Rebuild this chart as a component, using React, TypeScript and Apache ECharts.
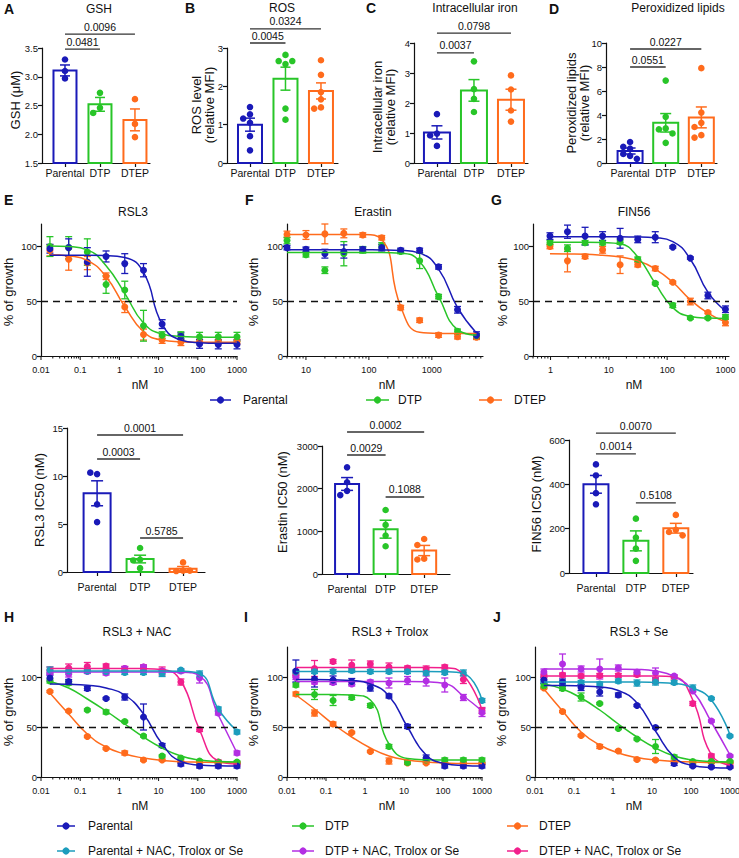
import React, { useEffect, useRef } from "react";
import * as echarts from "echarts";

const FONT = "'Liberation Sans', Arial, Helvetica, sans-serif";
const INK = "#111111";

const COL_PAR = "#1a1ab8";
const COL_DTP = "#28c528";
const COL_DTEP = "#ff6b1c";
const COL_PAR_T = "#1c9dbd";
const COL_DTP_T = "#b32ee3";
const COL_DTEP_T = "#f21f8c";
const GROUP_COLORS = [COL_PAR, COL_DTP, COL_DTEP];

const groupNames = ["Parental", "DTP", "DTEP"];
const treatedNames = ["Parental + NAC, Trolox or Se", "DTP + NAC, Trolox or Se", "DTEP + NAC, Trolox or Se"];

// ---------- A–D : bar panels (points per group, mean, SEM) ----------
const gshPoints = [[3.3, 3.1, 2.97], [2.72, 2.46, 2.37], [2.61, 2.18, 1.95]];
const gshMean = [3.11, 2.52, 2.25];
const gshSem = [0.095, 0.12, 0.19];
const gshP = ["0.0481", "0.0096"];

const rosPoints = [[1.46, 1.27, 1.16, 1.05, 0.7, 0.33], [2.82, 2.66, 2.66, 2.58, 1.42, 1.13], [2.68, 2.3, 1.85, 1.66, 1.45, 1.42]];
const rosMean = [1.0, 2.2, 1.88];
const rosSem = [0.17, 0.3, 0.21];
const rosP = ["0.0045", "0.0324"];

const ironPoints = [[1.63, 0.98, 0.92, 0.57], [3.39, 2.46, 2.14, 1.7], [2.92, 2.45, 1.75, 1.38]];
const ironMean = [1.02, 2.42, 2.11];
const ironSem = [0.22, 0.36, 0.35];
const ironP = ["0.0037", "0.0798"];

const lipidPoints = [[1.75, 1.35, 1.2, 0.75, 0.6, 0.35], [6.87, 3.85, 2.88, 2.8, 2.46, 1.68], [7.9, 4.2, 3.35, 3.0, 2.32, 2.12]];
const lipidMean = [1.0, 3.35, 3.8];
const lipidSem = [0.25, 0.77, 0.87];
const lipidP = ["0.0551", "0.0227"];

// ---------- IC50 bar panels ----------
const rsl3Ic50Points = [[10.2, 10.35, 7.05, 5.2], [2.5, 1.3, 1.2, 0.4], [1.0, 0.15, 0.1, 0.15]];
const rsl3Ic50Mean = [8.2, 1.35, 0.35];
const rsl3Ic50Sem = [1.3, 0.4, 0.22];
const rsl3Ic50P = ["0.0001", "0.0003", "0.5785"];

const eraIc50Points = [[2500, 2150, 1950, 1850], [1500, 1150, 900, 650], [820, 680, 360, 340]];
const eraIc50Mean = [2110, 1050, 550];
const eraIc50Sem = [150, 210, 120];
const eraIc50P = ["0.0002", "0.0029", "0.1088"];

const finIc50Points = [[490, 440, 360, 310], [245, 160, 110, 55], [262, 195, 185, 170]];
const finIc50Mean = [400, 145, 202];
const finIc50Sem = [40, 45, 22];
const finIc50P = ["0.0070", "0.0014", "0.5108"];

// ---------- Dose-response (nM) ----------
const dosesRSL3 = [0.0169, 0.0508, 0.152, 0.457, 1.37, 4.12, 12.3, 37.0, 111, 333, 1000];
const dosesErastin = [5, 10, 20, 40, 80, 160, 320, 640, 1280, 2560, 5120];
const dosesFIN56 = [0.977, 1.95, 3.91, 7.81, 15.6, 31.3, 62.5, 125, 250, 500, 1000];

// E: RSL3
const rsl3ParPts = [97.5, 98.5, 85.5, 90.5, 84, 78, 29, 18, 11, 10.5, 10.5];
const rsl3ParSem = [4, 8, 13, 5, 9, 6, 4, 3, 4, 4, 4];
const rsl3ParFit = [91.5, 91.5, 91.5, 91.3, 89.5, 76, 29, 14.5, 12, 11.5, 11.5];
const rsl3DtpPts = [99.5, 98.5, 94.5, 65, 60, 27.5, 19, 19, 17.5, 17.5, 17.5];
const rsl3DtpSem = [9, 10, 12, 8, 8, 14, 3, 3, 4, 4, 4];
const rsl3DtpFit = [100, 99.5, 96.5, 82, 57, 30, 20, 17.8, 17.2, 17, 17];
const rsl3DtepPts = [96, 88, 84.5, 72.5, 44.5, 19.5, 14.5, 12.5, 13, 13, 13];
const rsl3DtepSem = [5, 10, 6, 3, 5, 5, 3, 3, 2, 2, 2];
const rsl3DtepFit = [92, 91, 87, 72, 45, 22, 14.5, 13, 12.5, 12.5, 12.5];

// F: Erastin
const eraParPts = [98.5, 97, 93, 95, 97, 98.5, 96, 96, 81, 42, 19];
const eraParSem = [2, 2, 4, 6, 2, 3, 2, 2, 2, 3, 3];
const eraParFit = [96.5, 96.5, 96.5, 96.5, 96.5, 96.4, 96, 93.5, 79, 44, 21];
const eraDtpPts = [105, 92, 78, 93, 96.5, 100, 95, 86.5, 54, 22.5, 18.5];
const eraDtpSem = [3, 2, 3, 11, 3, 3, 2, 7, 2, 2, 2];
const eraDtpFit = [94, 94, 94, 94, 94, 94, 93.5, 86, 54, 24, 19];
const eraDtepPts = [110.5, 110, 111, 111.5, 110, 107.5, 44, 32.5, 19, 17.5, 17];
const eraDtepSem = [3, 4, 9, 4, 2, 2, 2, 2, 2, 2, 2];
const eraDtepFit = [110.5, 110.5, 110.5, 110.5, 110.4, 106, 45, 21.5, 20.5, 20.5, 20.5];

// G: FIN56
const finParPts = [109, 113, 109, 109, 107, 106, 108, 99, 89, 55, 42.5];
const finParSem = [3, 6, 8, 4, 9, 3, 5, 1, 1, 3, 3];
const finParFit = [108.3, 108.3, 108.3, 108.3, 108.3, 108.2, 107.5, 104, 88, 58, 41];
const finDtpPts = [103, 98, 103, 103, 103.5, 88, 66, 46, 34.5, 34.5, 35.5];
const finDtpSem = [2, 3, 2, 2, 2, 2, 1, 2, 1, 1, 2];
const finDtpFit = [103.5, 103.5, 103.5, 103.2, 102, 90, 66, 44, 36, 34.5, 34.2];
const finDtepPts = [99.5, 86.5, 90.5, 96.5, 83, 83, 79.5, 67, 49.5, 39.5, 30.5];
const finDtepSem = [2, 10, 2, 3, 8, 2, 2, 1, 3, 1, 3];
const finDtepFit = [93, 92.8, 92.5, 91.5, 90, 86.5, 79, 67, 51, 39, 31];

// H: RSL3 + NAC
const nacParPts = [99, 95.5, 88.5, 78.5, 80, 60, 31.5, 13, 11, 11, 11];
const nacParSem = [3, 2, 2, 1, 3, 13, 2, 2, 2, 2, 2];
const nacParFit = [93, 92.7, 91.7, 89, 82, 63, 33, 15.5, 12, 11.2, 11];
const nacDtpPts = [96, 94, 67, 65, 55.5, 41, 21, 19, 16, 15, 15];
const nacDtpSem = [2, 2, 1, 2, 1, 1, 1, 1, 1, 1, 1];
const nacDtpFit = [95.5, 89, 78, 66, 53, 40, 29, 21, 17, 15.5, 15];
const nacDtepPts = [85.5, 66, 40.5, 28.5, 24, 17, 17, 15, 14, 14, 14];
const nacDtepSem = [1, 1, 1, 1, 2, 1, 1, 1, 1, 1, 1];
const nacDtepFit = [84, 63, 43, 30, 23, 19, 16.5, 15.3, 14.8, 14.5, 14.5];
const nacParTPts = [107, 106, 106, 105.5, 104.5, 104.5, 103.5, 107, 103, 68, 45];
const nacParTSem = [3, 3, 2, 2, 2, 2, 3, 1, 3, 2, 2];
const nacParTFit = [106, 106, 106, 106, 106, 106, 106, 105.8, 103.5, 68, 46];
const nacDtpTPts = [104, 103, 105.5, 104, 108.5, 110, 106, 106, 99, 64, 24];
const nacDtpTSem = [2, 3, 2, 2, 2, 2, 2, 2, 5, 2, 2];
const nacDtpTFit = [105, 105, 105, 105, 105, 105, 105, 104.8, 101, 62, 24];
const nacDtepTPts = [107, 109, 110.5, 111, 108.5, 110, 106, 95, 47.5, 15, 13];
const nacDtepTSem = [3, 4, 4, 2, 2, 2, 4, 3, 2, 2, 2];
const nacDtepTFit = [108.5, 108.5, 108.5, 108.5, 108.5, 108.4, 107.5, 96, 47, 16, 13];

// I: RSL3 + Trolox
const trxParPts = [106, 98, 97, 95.5, 89, 81, 50.5, 19, 11, 11, 11];
const trxParSem = [11, 8, 4, 3, 3, 2, 2, 3, 2, 2, 2];
const trxParFit = [97.5, 97.5, 97.2, 96.5, 93, 81, 50, 22, 13.5, 11.5, 11];
const trxDtpPts = [92, 82.5, 76.5, 79.5, 71.5, 30.5, 14.5, 17, 17, 17, 17];
const trxDtpSem = [2, 5, 5, 2, 2, 2, 2, 2, 2, 2, 2];
const trxDtpFit = [82.5, 82.5, 82.5, 82, 77, 33, 18.5, 17.2, 17, 17, 17];
const trxDtepPts = [83, 64, 53, 44.5, 25.5, 16, 14, 14, 13.5, 13.5, 13.5];
const trxDtepSem = [2, 3, 2, 1, 1, 3, 1, 1, 1, 1, 1];
const trxDtepFit = [82, 68, 53, 40, 29, 21, 17, 15, 14, 13.5, 13.5];
const trxParTPts = [105, 105.5, 105.5, 106.5, 105.5, 105.5, 105.5, 104, 104.5, 104, 76.5];
const trxParTSem = [2, 2, 2, 2, 2, 2, 2, 2, 2, 3, 2];
const trxParTFit = [105.5, 105.5, 105.5, 105.5, 105.5, 105.5, 105.5, 105.5, 105.3, 103.5, 77];
const trxDtpTPts = [99.5, 95, 94.5, 93, 95, 94, 96.5, 96, 92, 79.5, 64.5];
const trxDtpTSem = [2, 2, 2, 2, 2, 5, 4, 5, 7, 3, 4];
const trxDtpTFit = [95.5, 95.5, 95.5, 95.5, 95.5, 95.5, 95.5, 95.2, 93.5, 81, 66];
const trxDtepTPts = [102, 108.5, 115.5, 112, 113, 110, 109, 108, 110, 97.5, 66.5];
const trxDtepTSem = [2, 8, 2, 5, 3, 4, 2, 3, 2, 4, 3];
const trxDtepTFit = [109.5, 109.5, 109.5, 109.5, 109.5, 109.5, 109.5, 109.5, 109.3, 102, 67];

// J: RSL3 + Se
const seParPts = [97, 95, 89.5, 85, 82, 71.5, 49.5, 13.5, 11, 10, 10];
const seParSem = [3, 3, 3, 4, 2, 1, 1, 2, 1, 1, 1];
const seParFit = [91.5, 91.5, 91, 90, 86.5, 74, 46, 20, 11.5, 9.5, 9];
const seDtpPts = [91, 88.5, 80, 73.5, 48.5, 38, 30.5, 20, 15.5, 15.5, 15.5];
const seDtpSem = [2, 2, 4, 1, 1, 1, 7, 2, 1, 1, 1];
const seDtpFit = [93, 88, 79, 67, 53, 40, 29, 21, 17, 15.5, 15];
const seDtepPts = [89, 65.5, 41.5, 30.5, 26, 17.5, 17, 15, 14.5, 14.5, 14.5];
const seDtepSem = [1, 1, 1, 2, 1, 1, 1, 1, 1, 1, 1];
const seDtepFit = [88, 66, 45, 32, 24, 19.5, 17, 15.5, 15, 14.5, 14.5];
const seParTPts = [95.5, 94, 94.5, 93, 96, 94, 95, 94.5, 89, 78.5, 41];
const seParTSem = [2, 2, 2, 2, 2, 3, 3, 2, 3, 1, 1];
const seParTFit = [95, 95, 95, 95, 95, 95, 94.5, 93.5, 89, 77, 42];
const seDtpTPts = [105, 113, 108, 108, 109, 105, 104, 101, 86, 56, 21];
const seDtpTSem = [3, 10, 3, 10, 3, 2, 5, 1, 1, 1, 1];
const seDtpTFit = [108, 108, 108, 108, 107.8, 107.5, 106, 100.5, 86, 55, 22];
const seDtepTPts = [101, 102, 101, 101.5, 101.5, 102.5, 96.5, 100, 73.5, 21, 11];
const seDtepTSem = [2, 2, 2, 2, 2, 2, 3, 2, 2, 2, 2];
const seDtepTFit = [101, 101, 101, 101, 101, 101, 101, 100, 77, 22, 12];

// ---------- panel definitions ----------
const barPanels = [
  { points: gshPoints, mean: gshMean, sem: gshSem, yMin: 1.5, yMax: 3.5, yStep: 0.5, digits: 1,
    brackets: [{ from: 0, to: 1, level: 3.48, label: gshP[0] }, { from: 0, to: 2, level: 3.74, label: gshP[1] }] },
  { points: rosPoints, mean: rosMean, sem: rosSem, yMin: 0, yMax: 3, yStep: 1, digits: 0,
    brackets: [{ from: 0, to: 1, level: 3.13, label: rosP[0] }, { from: 0, to: 2, level: 3.5, label: rosP[1] }] },
  { points: ironPoints, mean: ironMean, sem: ironSem, yMin: 0, yMax: 4, yStep: 1, digits: 0,
    brackets: [{ from: 0, to: 1, level: 3.67, label: ironP[0] }, { from: 0, to: 2, level: 4.33, label: ironP[1] }] },
  { points: lipidPoints, mean: lipidMean, sem: lipidSem, yMin: 0, yMax: 10, yStep: 2, digits: 0,
    brackets: [{ from: 0, to: 1, level: 8.0, label: lipidP[0] }, { from: 0, to: 2, level: 9.5, label: lipidP[1] }] },
  { points: rsl3Ic50Points, mean: rsl3Ic50Mean, sem: rsl3Ic50Sem, yMin: 0, yMax: 15, yStep: 5, digits: 0,
    brackets: [{ from: 0, to: 2, level: 14.27, label: rsl3Ic50P[0] }, { from: 0, to: 1, level: 11.77, label: rsl3Ic50P[1] }, { from: 1, to: 2, level: 3.54, label: rsl3Ic50P[2] }] },
  { points: eraIc50Points, mean: eraIc50Mean, sem: eraIc50Sem, yMin: 0, yMax: 3000, yStep: 1000, digits: 0,
    brackets: [{ from: 0, to: 2, level: 3328, label: eraIc50P[0] }, { from: 0, to: 1, level: 2789, label: eraIc50P[1] }, { from: 1, to: 2, level: 1805, label: eraIc50P[2] }] },
  { points: finIc50Points, mean: finIc50Mean, sem: finIc50Sem, yMin: 0, yMax: 600, yStep: 200, digits: 0,
    brackets: [{ from: 0, to: 2, level: 631, label: finIc50P[0] }, { from: 0, to: 1, level: 537, label: finIc50P[1] }, { from: 1, to: 2, level: 316, label: finIc50P[2] }] },
];

const barLayouts = [
  { left: 42, top: 48, width: 108, height: 115, xMin: -0.657, xMax: 2.43, barW: 23, capW: 10, labelMargin: 4 },
  { left: 227, top: 48, width: 111, height: 115, xMin: -0.648, xMax: 2.48, barW: 24, capW: 10, labelMargin: 4 },
  { left: 414, top: 43, width: 114, height: 120, xMin: -0.62, xMax: 2.46, barW: 26, capW: 11, labelMargin: 4 },
  { left: 606, top: 43, width: 111, height: 120, xMin: -0.676, xMax: 2.44, barW: 25, capW: 11, labelMargin: 4 },
  { left: 67, top: 428, width: 138, height: 144, xMin: -0.7, xMax: 2.51, barW: 27, capW: 12, labelMargin: 9 },
  { left: 322, top: 446, width: 128, height: 128, xMin: -0.65, xMax: 2.67, barW: 24, capW: 12, labelMargin: 9 },
  { left: 569, top: 440, width: 124, height: 133, xMin: -0.675, xMax: 2.43, barW: 25, capW: 12, labelMargin: 9 },
];

const dosePanels = [
  { doses: dosesRSL3, sets: [
    { color: COL_PAR, pts: rsl3ParPts, sem: rsl3ParSem, fit: rsl3ParFit },
    { color: COL_DTP, pts: rsl3DtpPts, sem: rsl3DtpSem, fit: rsl3DtpFit },
    { color: COL_DTEP, pts: rsl3DtepPts, sem: rsl3DtepSem, fit: rsl3DtepFit } ] },
  { doses: dosesErastin, sets: [
    { color: COL_PAR, pts: eraParPts, sem: eraParSem, fit: eraParFit },
    { color: COL_DTP, pts: eraDtpPts, sem: eraDtpSem, fit: eraDtpFit },
    { color: COL_DTEP, pts: eraDtepPts, sem: eraDtepSem, fit: eraDtepFit } ] },
  { doses: dosesFIN56, sets: [
    { color: COL_PAR, pts: finParPts, sem: finParSem, fit: finParFit },
    { color: COL_DTP, pts: finDtpPts, sem: finDtpSem, fit: finDtpFit },
    { color: COL_DTEP, pts: finDtepPts, sem: finDtepSem, fit: finDtepFit } ] },
  { doses: dosesRSL3, sets: [
    { color: COL_PAR, pts: nacParPts, sem: nacParSem, fit: nacParFit },
    { color: COL_DTP, pts: nacDtpPts, sem: nacDtpSem, fit: nacDtpFit },
    { color: COL_DTEP, pts: nacDtepPts, sem: nacDtepSem, fit: nacDtepFit },
    { color: COL_PAR_T, pts: nacParTPts, sem: nacParTSem, fit: nacParTFit },
    { color: COL_DTP_T, pts: nacDtpTPts, sem: nacDtpTSem, fit: nacDtpTFit },
    { color: COL_DTEP_T, pts: nacDtepTPts, sem: nacDtepTSem, fit: nacDtepTFit } ] },
  { doses: dosesRSL3, sets: [
    { color: COL_PAR, pts: trxParPts, sem: trxParSem, fit: trxParFit },
    { color: COL_DTP, pts: trxDtpPts, sem: trxDtpSem, fit: trxDtpFit },
    { color: COL_DTEP, pts: trxDtepPts, sem: trxDtepSem, fit: trxDtepFit },
    { color: COL_PAR_T, pts: trxParTPts, sem: trxParTSem, fit: trxParTFit },
    { color: COL_DTP_T, pts: trxDtpTPts, sem: trxDtpTSem, fit: trxDtpTFit },
    { color: COL_DTEP_T, pts: trxDtepTPts, sem: trxDtepTSem, fit: trxDtepTFit } ] },
  { doses: dosesRSL3, sets: [
    { color: COL_PAR, pts: seParPts, sem: seParSem, fit: seParFit },
    { color: COL_DTP, pts: seDtpPts, sem: seDtpSem, fit: seDtpFit },
    { color: COL_DTEP, pts: seDtepPts, sem: seDtepSem, fit: seDtepFit },
    { color: COL_PAR_T, pts: seParTPts, sem: seParTSem, fit: seParTFit },
    { color: COL_DTP_T, pts: seDtpTPts, sem: seDtpTSem, fit: seDtpTFit },
    { color: COL_DTEP_T, pts: seDtepTPts, sem: seDtepTSem, fit: seDtepTFit } ] },
];

const doseLayouts = [
  { left: 41, top: 224, width: 196, height: 132, xMin: 0.01, xMax: 1000, yMax: 120 },
  { left: 287, top: 224, width: 196, height: 132, xMin: 5, xMax: 6500, yMax: 120 },
  { left: 533, top: 224, width: 196, height: 132, xMin: 0.5, xMax: 1150, yMax: 120 },
  { left: 41, top: 647, width: 196, height: 130, xMin: 0.01, xMax: 1000, yMax: 130 },
  { left: 287, top: 647, width: 195, height: 130, xMin: 0.01, xMax: 1000, yMax: 130 },
  { left: 535, top: 647, width: 195, height: 130, xMin: 0.01, xMax: 1000, yMax: 130 },
];

// ---------- text layout ----------
const letters = [
  ["A", 4, 9], ["B", 185, 8], ["C", 366, 8], ["D", 549, 9],
  ["E", 4, 200], ["F", 245, 200], ["G", 491, 200],
  ["H", 4, 617], ["I", 244, 617], ["J", 493, 617],
];
const titles = [
  ["GSH", 99, 9], ["ROS", 282, 8], ["Intracellular iron", 475, 8], ["Peroxidized lipids", 678, 8],
  ["RSL3", 133, 212], ["Erastin", 373, 212], ["FIN56", 634, 212],
  ["RSL3 + NAC", 137, 632], ["RSL3 + Trolox", 390, 632], ["RSL3 + Se", 639, 632],
];
const yNames = [
  ["GSH (μM)", 15, 100], ["ROS level\n(relative MFI)", 203, 105], ["Intracellular iron\n(relative MFI)", 384, 107],
  ["Peroxidized lipids\n(relative MFI)", 578, 103],
  ["RSL3 IC50 (nM)", 39, 500], ["Erastin IC50 (nM)", 282, 502], ["FIN56 IC50 (nM)", 536, 504],
  ["% of growth", 8, 292], ["% of growth", 253, 292], ["% of growth", 502, 292],
  ["% of growth", 8, 712], ["% of growth", 253, 712], ["% of growth", 501, 712],
];
const xNames = [["nM", 140, 385], ["nM", 387, 385], ["nM", 634, 385], ["nM", 140, 806], ["nM", 387, 806], ["nM", 634, 806]];

const legendRows = [
  { y: 400, items: [
    { label: groupNames[0], color: COL_PAR, x1: 210, x2: 231, tx: 243 },
    { label: groupNames[1], color: COL_DTP, x1: 366, x2: 389, tx: 398 },
    { label: groupNames[2], color: COL_DTEP, x1: 479, x2: 502, tx: 514 } ] },
  { y: 826, items: [
    { label: groupNames[0], color: COL_PAR, x1: 57, x2: 75, tx: 88 },
    { label: groupNames[1], color: COL_DTP, x1: 292, x2: 314, tx: 325 },
    { label: groupNames[2], color: COL_DTEP, x1: 507, x2: 528, tx: 539 } ] },
  { y: 851, items: [
    { label: treatedNames[0], color: COL_PAR_T, x1: 57, x2: 75, tx: 88 },
    { label: treatedNames[1], color: COL_DTP_T, x1: 292, x2: 314, tx: 325 },
    { label: treatedNames[2], color: COL_DTEP_T, x1: 507, x2: 528, tx: 539 } ] },
];

function swarmOffsets(ys: number[], d: number): number[] {
  const placed: { x: number; y: number }[] = [];
  return ys.map((y) => {
    const steps = [0, -1, 1, -2, 2, -3, 3];
    let x = 0;
    for (const s of steps) {
      const cx = s * d;
      if (placed.every((p) => Math.hypot(p.x - cx, p.y - y) >= d * 0.92)) { x = cx; break; }
    }
    placed.push({ x, y });
    return x;
  });
}

const axisLineStyle = { color: INK, width: 1.2 };

function buildOption() {
  const grid: any[] = [];
  const xAxis: any[] = [];
  const yAxis: any[] = [];
  const series: any[] = [];

  barPanels.forEach((p, i) => {
    const L = barLayouts[i];
    grid.push({ left: L.left, top: L.top, width: L.width, height: L.height, containLabel: false, outerBoundsMode: "none" });
    xAxis.push({
      gridIndex: i, type: "value", min: L.xMin, max: L.xMax,
      axisLine: { show: true, onZero: false, lineStyle: axisLineStyle },
      axisTick: { show: true, length: 4, customValues: [0, 1, 2], lineStyle: axisLineStyle },
      axisLabel: { customValues: [0, 1, 2], fontSize: 10.5, fontFamily: FONT, color: INK, margin: L.labelMargin,
        formatter: (v: number) => (Number.isInteger(v) && v >= 0 && v <= 2 ? groupNames[v] : "") },
      splitLine: { show: false },
    });
    yAxis.push({
      gridIndex: i, type: "value", min: p.yMin, max: p.yMax, interval: p.yStep,
      axisLine: { show: true, onZero: false, lineStyle: axisLineStyle },
      axisTick: { show: true, length: 4, lineStyle: axisLineStyle },
      axisLabel: { fontSize: 9.5, fontFamily: FONT, color: INK, margin: 4, formatter: (v: number) => v.toFixed(p.digits) },
      splitLine: { show: false },
    });
    // bars
    series.push({
      type: "custom", xAxisIndex: i, yAxisIndex: i, clip: false, silent: true, z: 2,
      data: p.mean.map((m, k) => [k, m]),
      renderItem: (params: any, api: any) => {
        const k = api.value(0);
        const top = api.coord([k, api.value(1)]);
        const base = api.coord([k, p.yMin]);
        return {
          type: "rect",
          shape: { x: top[0] - L.barW / 2, y: top[1], width: L.barW, height: base[1] - top[1] },
          style: { fill: "#ffffff", stroke: GROUP_COLORS[k], lineWidth: 2 },
        };
      },
    });
    // dots
    series.push({
      type: "custom", xAxisIndex: i, yAxisIndex: i, clip: false, silent: true, z: 3,
      data: p.points.flatMap((arr, k) => arr.map((v, j) => [k, v, j])),
      renderItem: (params: any, api: any) => {
        const k = api.value(0);
        const j = api.value(2);
        const vals = p.points[k];
        const ys = vals.map((v) => api.coord([k, v])[1]);
        const offs = swarmOffsets(ys, 6.8);
        const c = api.coord([k, vals[j]]);
        return { type: "circle", shape: { cx: c[0] + offs[j], cy: c[1], r: 3.3 }, style: { fill: GROUP_COLORS[k] } };
      },
    });
    // error bars
    series.push({
      type: "custom", xAxisIndex: i, yAxisIndex: i, clip: false, silent: true, z: 4,
      data: p.mean.map((m, k) => [k, m, p.sem[k]]),
      renderItem: (params: any, api: any) => {
        const k = api.value(0), m = api.value(1), s = api.value(2);
        const hi = api.coord([k, m + s]);
        const lo = api.coord([k, m - s]);
        const hw = L.capW / 2;
        const st = { stroke: GROUP_COLORS[k], lineWidth: 1.5 };
        return {
          type: "group",
          children: [
            { type: "line", shape: { x1: hi[0], y1: hi[1], x2: lo[0], y2: lo[1] }, style: st },
            { type: "line", shape: { x1: hi[0] - hw, y1: hi[1], x2: hi[0] + hw, y2: hi[1] }, style: st },
            { type: "line", shape: { x1: lo[0] - hw, y1: lo[1], x2: lo[0] + hw, y2: lo[1] }, style: st },
          ],
        };
      },
    });
  });

  dosePanels.forEach((p, j) => {
    const gi = barPanels.length + j;
    const L = doseLayouts[j];
    grid.push({ left: L.left, top: L.top, width: L.width, height: L.height, containLabel: false, outerBoundsMode: "none" });
    const hideEnds = !(Math.abs(Math.log10(L.xMin) - Math.round(Math.log10(L.xMin))) < 1e-6);
    xAxis.push({
      gridIndex: gi, type: "log", logBase: 10, min: L.xMin, max: L.xMax,
      axisLine: { show: true, onZero: false, lineStyle: axisLineStyle },
      axisTick: { show: false },
      axisLabel: { fontSize: 9, fontFamily: FONT, color: INK, margin: 9, showMinLabel: !hideEnds, showMaxLabel: !hideEnds,
        formatter: (v: number) => String(+Number(v).toPrecision(6)) },
      splitLine: { show: false }, minorTick: { show: false },
    });
    yAxis.push({
      gridIndex: gi, type: "value", min: 0, max: L.yMax, interval: 50,
      axisLine: { show: true, onZero: false, lineStyle: axisLineStyle },
      axisTick: { show: true, length: 4, customValues: [0, 50, 100], lineStyle: axisLineStyle },
      axisLabel: { customValues: [0, 50, 100], fontSize: 9.5, fontFamily: FONT, color: INK, margin: 4,
        formatter: (v: number) => (v <= 100 ? String(v) : "") },
      splitLine: { show: false },
    });
    const order = [...p.sets].reverse();
    order.forEach((s, idx) => {
      series.push({
        type: "line", xAxisIndex: gi, yAxisIndex: gi, clip: false, silent: true,
        data: p.doses.map((d, k) => [d, s.fit[k]]),
        smooth: 0.5, showSymbol: false, symbol: "none",
        lineStyle: { color: s.color, width: 1.5 },
        markLine: idx === 0 ? {
          silent: true, symbol: ["none", "none"], label: { show: false },
          lineStyle: { type: [7, 5], color: "#111", width: 1.3 },
          data: [{ yAxis: 50 }],
        } : undefined,
      });
      series.push({
        type: "custom", xAxisIndex: gi, yAxisIndex: gi, clip: false, silent: true,
        data: p.doses.map((d, k) => [d, s.pts[k], s.sem[k]]),
        renderItem: (params: any, api: any) => {
          const x = api.value(0), m = api.value(1), e = api.value(2);
          const hi = api.coord([x, m + e]);
          const lo = api.coord([x, m - e]);
          const hw = 3.5;
          const st = { stroke: s.color, lineWidth: 1.3 };
          return {
            type: "group",
            children: [
              { type: "line", shape: { x1: hi[0], y1: hi[1], x2: lo[0], y2: lo[1] }, style: st },
              { type: "line", shape: { x1: hi[0] - hw, y1: hi[1], x2: hi[0] + hw, y2: hi[1] }, style: st },
              { type: "line", shape: { x1: lo[0] - hw, y1: lo[1], x2: lo[0] + hw, y2: lo[1] }, style: st },
            ],
          };
        },
      });
      series.push({
        type: "scatter", xAxisIndex: gi, yAxisIndex: gi, clip: false, silent: true,
        data: p.doses.map((d, k) => [d, s.pts[k]]),
        symbol: "circle", symbolSize: 7, itemStyle: { color: s.color, opacity: 1 },
      });
    });
  });

  return { animation: false, backgroundColor: "#ffffff", grid, xAxis, yAxis, series };
}

function buildGraphic(chart: any) {
  const px = (ax: number, v: number) => chart.convertToPixel({ xAxisIndex: ax }, v) as number;
  const py = (ax: number, v: number) => chart.convertToPixel({ yAxisIndex: ax }, v) as number;
  const els: any[] = [];
  const text = (t: string, x: number, y: number, opts: any = {}) => ({
    type: "text", x, y, silent: true, rotation: opts.rotation || 0,
    style: {
      text: t, fontSize: opts.fontSize || 12, fontFamily: FONT, fill: INK,
      fontWeight: opts.fontWeight || "normal", align: opts.align || "center",
      verticalAlign: opts.verticalAlign || "middle", lineHeight: opts.lineHeight,
    },
  });

  // significance brackets
  barPanels.forEach((p, i) => {
    p.brackets.forEach((b) => {
      const x1 = px(i, b.from), x2 = px(i, b.to), y = py(i, b.level);
      els.push({ type: "line", silent: true, shape: { x1, y1: y, x2, y2: y }, style: { stroke: "#333", lineWidth: 1.3 } });
      els.push(text(b.label, (x1 + x2) / 2, y - 2, { fontSize: 10.5, verticalAlign: "bottom" }));
    });
  });

  // log-axis ticks
  dosePanels.forEach((p, j) => {
    const gi = barPanels.length + j;
    const L = doseLayouts[j];
    const y0 = py(gi, 0);
    for (let e = -3; e <= 4; e++) {
      for (let k = 1; k <= 9; k++) {
        const v = k * Math.pow(10, e);
        if (v < L.xMin * 0.999 || v > L.xMax * 1.001) continue;
        const x = px(gi, v);
        const len = k === 1 ? 4 : 2.5;
        els.push({ type: "line", silent: true, shape: { x1: x, y1: y0, x2: x, y2: y0 + len }, style: { stroke: INK, lineWidth: 1 } });
      }
    }
  });

  letters.forEach(([t, x, y]) => els.push(text(t as string, x as number, y as number, { fontSize: 14, fontWeight: "bold", align: "left" })));
  titles.forEach(([t, x, y]) => els.push(text(t as string, x as number, y as number, { fontSize: 12 })));
  yNames.forEach(([t, x, y]) => els.push(text(t as string, x as number, y as number, { fontSize: 13, rotation: Math.PI / 2, lineHeight: 13 })));
  xNames.forEach(([t, x, y]) => els.push(text(t as string, x as number, y as number, { fontSize: 12 })));

  legendRows.forEach((row) => {
    row.items.forEach((it) => {
      els.push({ type: "line", silent: true, shape: { x1: it.x1, y1: row.y, x2: it.x2, y2: row.y }, style: { stroke: it.color, lineWidth: 1.5 } });
      els.push({ type: "circle", silent: true, shape: { cx: (it.x1 + it.x2) / 2, cy: row.y, r: 3.6 }, style: { fill: it.color } });
      els.push(text(it.label, it.tx, row.y, { fontSize: 12, align: "left" }));
    });
  });

  return els;
}

export default function App() {
  const ref = useRef<HTMLDivElement>(null);
  useEffect(() => {
    if (!ref.current) return;
    const chart = echarts.init(ref.current, undefined, { renderer: "svg" });
    chart.setOption(buildOption() as any);
    chart.setOption({ graphic: { elements: buildGraphic(chart) } } as any);
    return () => chart.dispose();
  }, []);
  return <div ref={ref} style={{ position: "absolute", left: 0, top: 0, width: 739, height: 858, background: "#fff" }} />;
}
